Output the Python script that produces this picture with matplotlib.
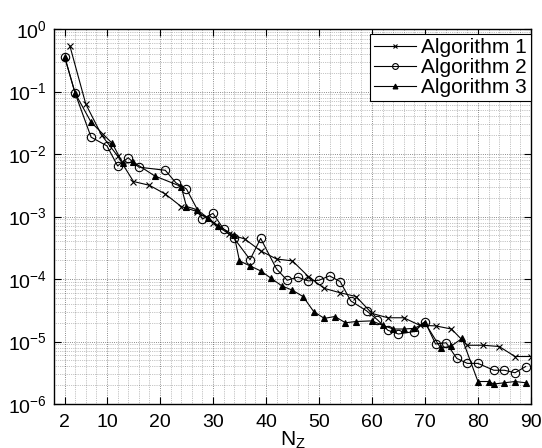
import numpy as np
import matplotlib
matplotlib.use("Agg")
import matplotlib.pyplot as plt
from matplotlib.ticker import LogLocator, FixedLocator, MultipleLocator, NullFormatter

plt.rcParams['font.family'] = ['Liberation Sans', 'DejaVu Sans']
plt.rcParams['mathtext.fontset'] = 'custom'
plt.rcParams['mathtext.rm'] = 'Liberation Sans'
plt.rcParams['mathtext.it'] = 'Liberation Sans:italic'

# Error versus number of basis functions N_Z (log10 of error)
n_alg1 = [3, 6, 9, 12, 15, 18, 21, 24, 27, 30, 33, 36, 39, 42, 45, 48, 51, 54,
          57, 60, 63, 66, 69, 72, 75, 78, 81, 84, 87, 90]
log_alg1 = [-0.27, -1.20, -1.70, -2.03, -2.44, -2.50, -2.64, -2.84, -2.92, -3.10,
            -3.28, -3.36, -3.55, -3.68, -3.71, -3.96, -4.15, -4.22, -4.28, -4.55,
            -4.62, -4.62, -4.74, -4.75, -4.80, -5.06, -5.06, -5.08, -5.24, -5.24]

n_alg2 = [2, 4, 7, 10, 12, 14, 16, 21, 23, 25, 28, 30, 32, 34, 37, 39, 42, 44,
          46, 48, 50, 52, 54, 56, 59, 61, 63, 65, 68, 70, 72, 74, 76, 78, 80,
          83, 85, 87, 89]
log_alg2 = [-0.44, -1.03, -1.73, -1.87, -2.19, -2.06, -2.21, -2.26, -2.46, -2.56,
            -3.04, -2.95, -3.20, -3.35, -3.69, -3.35, -3.84, -4.02, -3.97, -4.03,
            -4.02, -3.95, -4.04, -4.35, -4.51, -4.65, -4.82, -4.88, -4.84, -4.68,
            -5.04, -5.02, -5.27, -5.35, -5.35, -5.46, -5.46, -5.50, -5.40]

n_alg3 = [2, 4, 7, 11, 13, 15, 19, 24, 25, 27, 29, 31, 34, 35, 37, 39, 41, 43,
          45, 47, 49, 51, 53, 55, 57, 60, 62, 64, 66, 68, 70, 73, 75, 77, 80,
          82, 83, 85, 87, 89]
log_alg3 = [-0.44, -1.03, -1.49, -1.83, -2.15, -2.13, -2.35, -2.52, -2.84, -2.89,
            -3.02, -3.15, -3.30, -3.71, -3.79, -3.87, -3.99, -4.11, -4.18, -4.28,
            -4.52, -4.63, -4.60, -4.70, -4.68, -4.67, -4.74, -4.80, -4.80, -4.79,
            -4.70, -5.11, -5.07, -4.95, -5.64, -5.64, -5.68, -5.66, -5.64, -5.66]

x_ticks = [2, 10, 20, 30, 40, 50, 60, 70, 80, 90]

fig = plt.figure(figsize=(5.42, 4.48), dpi=100)
ax = fig.add_axes([0.0996, 0.0982, 0.880, 0.837])

lw = 0.8
ax.semilogy(n_alg1, 10 ** np.array(log_alg1), '-', color='k', lw=lw,
            marker='x', ms=5, mew=0.8, label='Algorithm 1')
ax.semilogy(n_alg2, 10 ** np.array(log_alg2), '-', color='k', lw=lw,
            marker='o', ms=6, mew=0.8, mfc='none', label='Algorithm 2')
ax.semilogy(n_alg3, 10 ** np.array(log_alg3), '-', color='k', lw=lw,
            marker='^', ms=5, mew=0.8, mfc='k', label='Algorithm 3')

ax.set_xlim(0, 90)
ax.set_ylim(1e-6, 1e0)
ax.xaxis.set_major_locator(FixedLocator(x_ticks))
ax.xaxis.set_minor_locator(MultipleLocator(2))
ax.yaxis.set_major_locator(LogLocator(base=10, numticks=10))
ax.yaxis.set_minor_locator(LogLocator(base=10, subs=np.arange(2, 10), numticks=100))
ax.yaxis.set_minor_formatter(NullFormatter())

ax.grid(True, which='major', linestyle=':', color='k', lw=0.6, alpha=0.6)
ax.grid(True, which='minor', linestyle=':', color='k', lw=0.5, alpha=0.45)

ax.tick_params(which='major', direction='in', length=5, width=0.8,
               top=True, right=True, labelsize=14)
ax.tick_params(axis='x', which='major', pad=7)
ax.tick_params(axis='y', which='major', pad=5)
ax.tick_params(which='minor', length=0, top=True, right=True)
for s in ax.spines.values():
    s.set_linewidth(1.0)

ax.set_xlabel(r'$\mathrm{N_Z}$', fontsize=15, labelpad=-1)

leg = ax.legend(loc='upper right', bbox_to_anchor=(1.0, 1 - 5 / 375),
                borderaxespad=0, fontsize=15, handlelength=2.0,
                handletextpad=0.25, labelspacing=0.05, borderpad=0.2,
                markerscale=0.7, fancybox=False, framealpha=1, edgecolor='k')
leg.get_frame().set_linewidth(0.8)

fig.savefig('out.png', dpi=100)
